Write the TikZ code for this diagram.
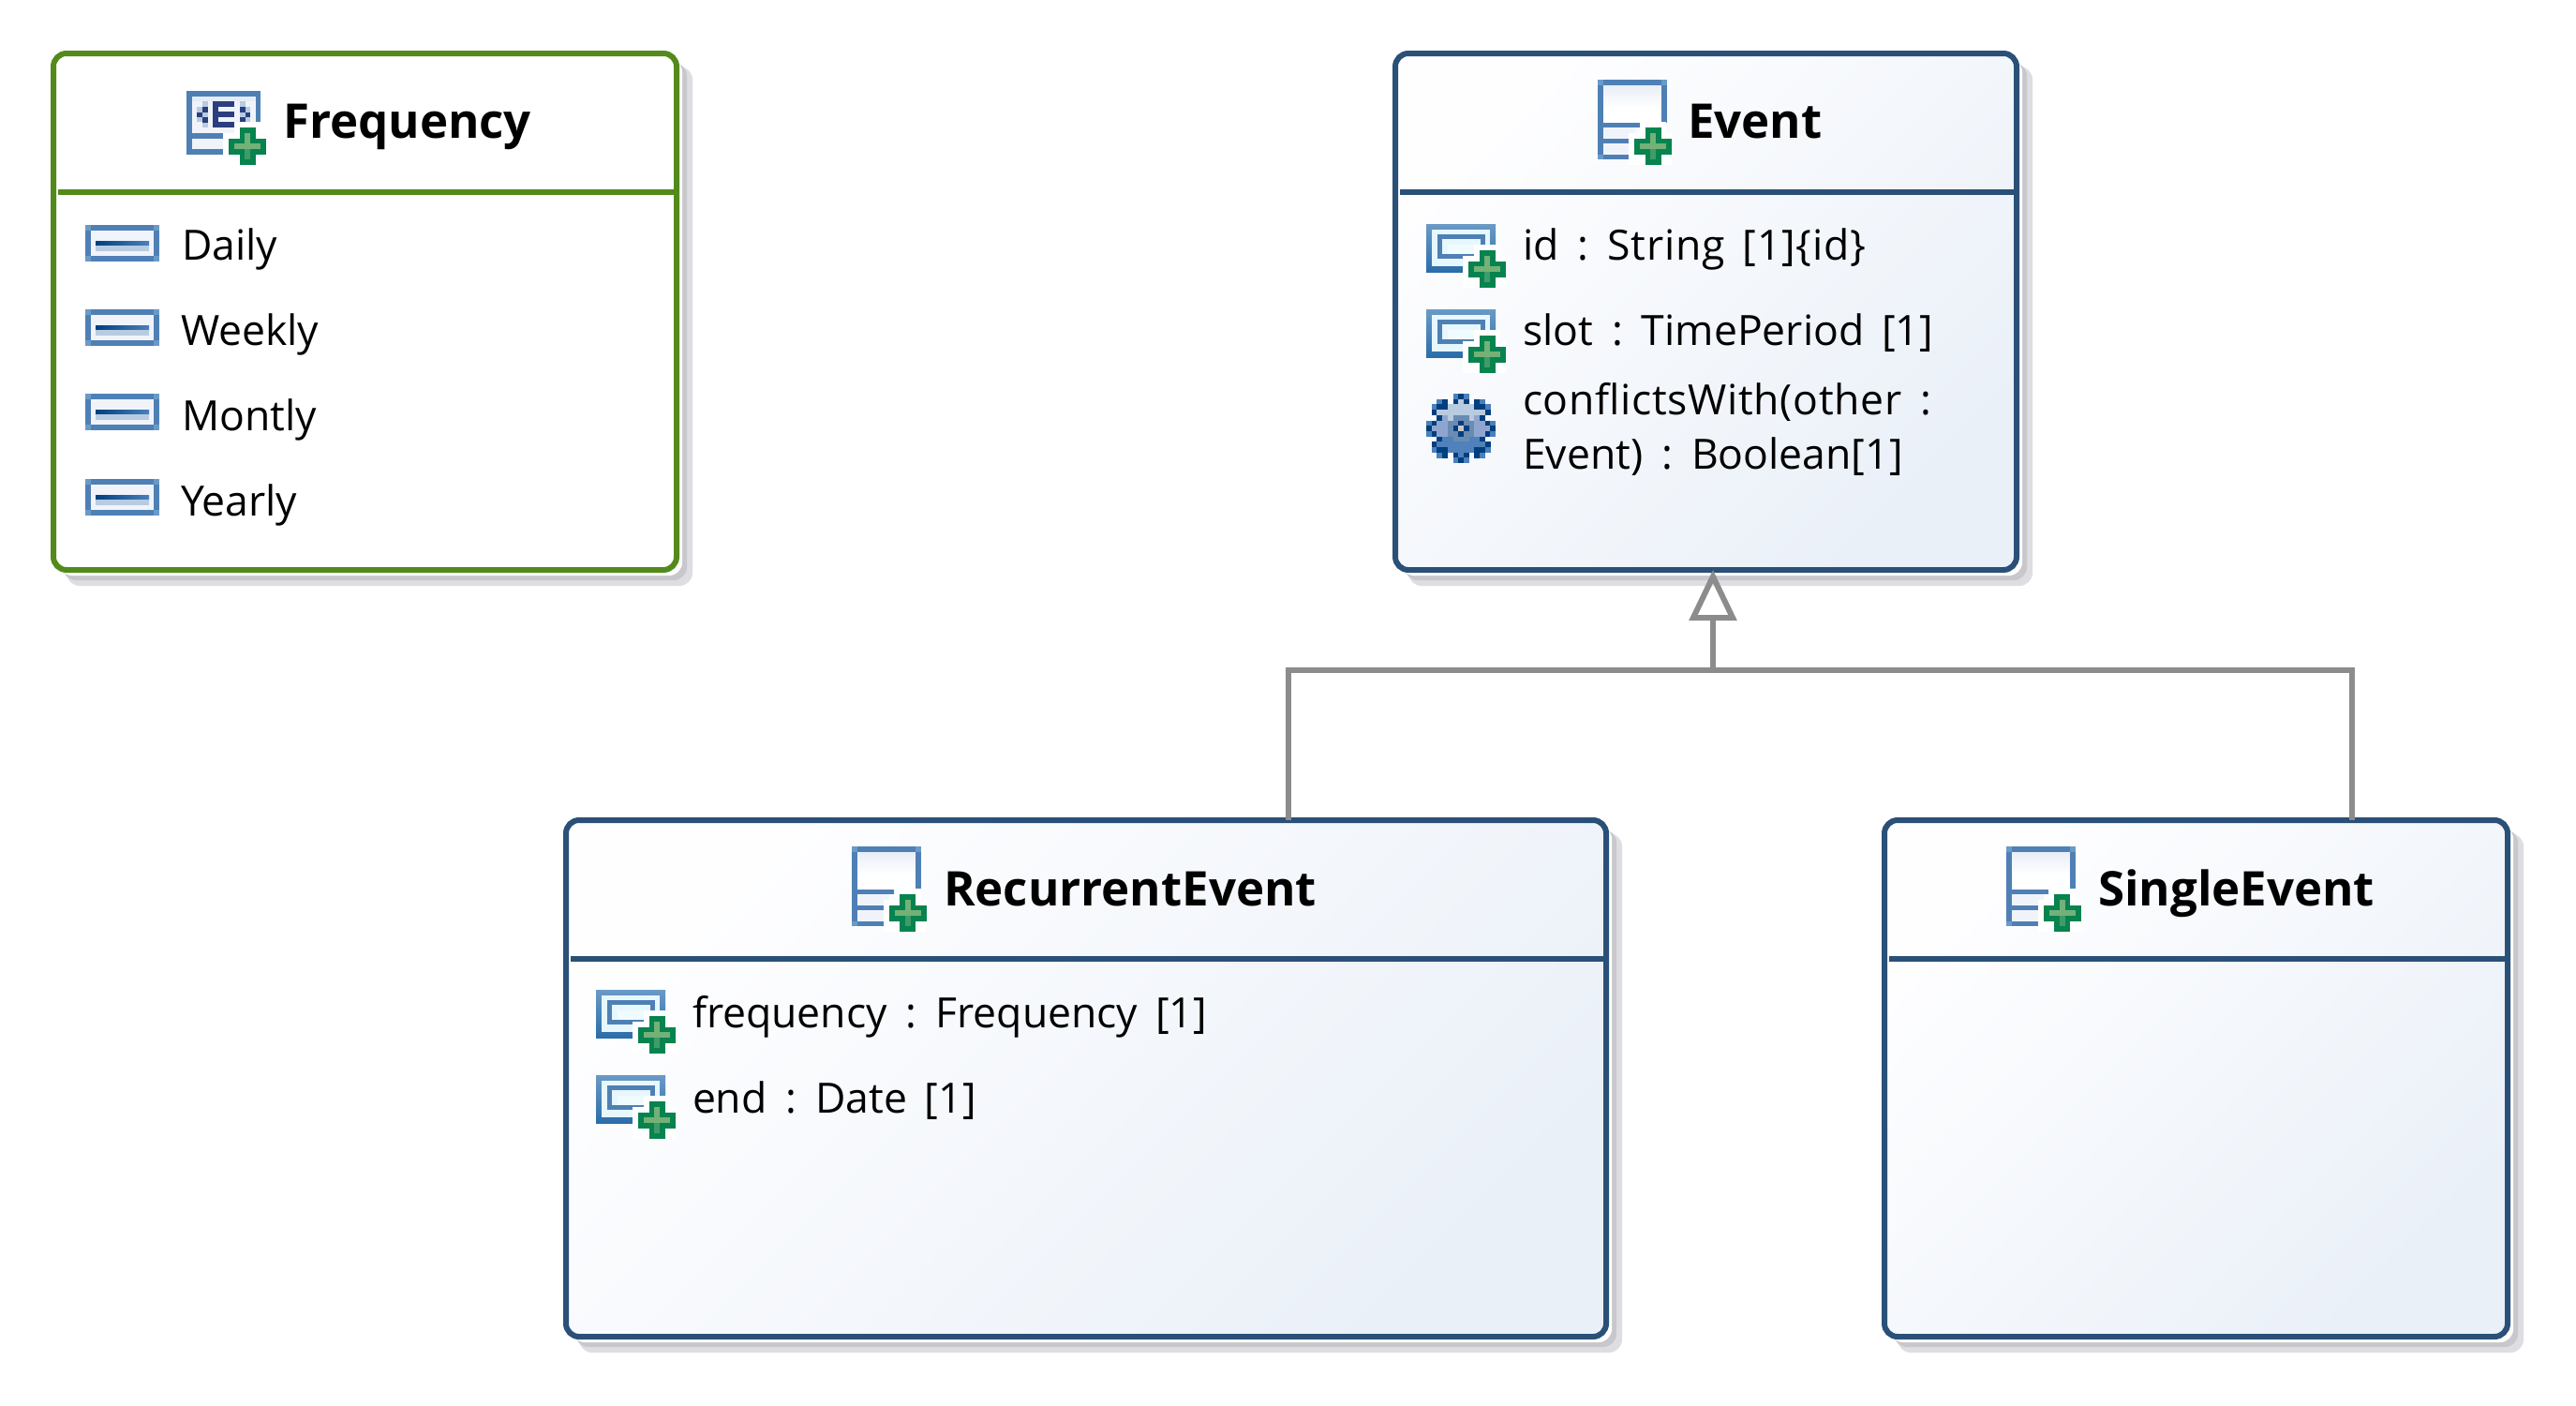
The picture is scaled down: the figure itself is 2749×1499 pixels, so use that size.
\documentclass[tikz,border=0pt]{standalone}
\usepackage{fontspec}
\setmainfont{Open Sans}
\usetikzlibrary{arrows.meta}
\definecolor{greenline}{HTML}{538A1C}
\definecolor{blueline}{HTML}{2A5078}
\definecolor{connline}{HTML}{8C8C8C}
\definecolor{shadowA}{HTML}{DEDDE2}
\definecolor{shadowB}{HTML}{C8C7CC}
\definecolor{iconframe}{HTML}{4F80B5}
\definecolor{iconcorner}{HTML}{6A9AC6}
\definecolor{attrtop}{HTML}{6A9AC6}
\definecolor{attrbottom}{HTML}{2B6DA9}
\definecolor{attrpale}{HTML}{E6F8FE}
\definecolor{attrpaler}{HTML}{F0FBFF}
\definecolor{plusgreen}{HTML}{07834F}
\definecolor{pluslight}{HTML}{73B177}
\definecolor{plusmid}{HTML}{3F9C68}
\definecolor{navy}{HTML}{2B3F7F}
\definecolor{panelA}{HTML}{FEFEFF}
\definecolor{panelB}{HTML}{EAF0F8}
\definecolor{iconA}{HTML}{E6ECF6}
\definecolor{iconB}{HTML}{F0F4FA}
\definecolor{gearD}{HTML}{003F7F}
\definecolor{gearM}{HTML}{4A80BB}
\definecolor{gearL}{HTML}{B8CBE0}
\definecolor{gearP}{HTML}{8FA5D0}
\definecolor{gearG}{HTML}{6A8BB2}
\definecolor{gearW}{HTML}{C8C8C8}
\definecolor{gearB}{HTML}{5081BB}
\tikzset{
  boxbase/.style={draw,line width=6pt,rounded corners=14pt,inner sep=0pt,outer sep=0pt},
  classfill/.style={top color=panelA,bottom color=panelB,shading angle=45},
  conn/.style={draw=connline,line width=6pt},
  titletext/.style={anchor=base west,inner sep=0pt,outer sep=0pt,font=\fontsize{51}{58}\selectfont\bfseries},
  itemtext/.style={anchor=base west,inner sep=0pt,outer sep=0pt,align=left,font=\fontsize{44.5}{58}\selectfont},
}
\newcommand\cgap{\hspace{0.45em}:\hspace{0.45em}}
\newcommand\bgap{\hspace{0.42em}}
\newcommand\umlbox[7]{%
  \fill[shadowA,rounded corners=14pt] (#2+14,#3+14) rectangle (#4+17,#5+17);
  \fill[shadowB,rounded corners=14pt] (#2+10,#3+10) rectangle (#4+11,#5+11);
  \fill[white,rounded corners=14pt] (#2+6,#3+6) rectangle (#4+6,#5+6);
  \node[boxbase,draw=#6,#7,minimum width=#4pt-#2pt,minimum height=#5pt-#3pt] (#1) at ({(#2+#4)/2},{(#3+#5)/2}) {};
  \draw[#6,line width=6pt] (#2+5,#3+148) -- (#4,#3+148);
}
\newcommand\plusicon[2]{%
  \begin{scope}[shift={(#1,#2)}]
    \fill[white] (-26,-14) rectangle (20,20);
    \fill[white] (-14,-26) rectangle (14,20);
    \fill[plusgreen] (-20,-8.5) rectangle (20,8.5);
    \fill[plusgreen] (-8.5,-20) rectangle (8.5,20);
    \fill[plusmid] (-3,0) rectangle (3,14);
    \fill[pluslight] (-3,-14) rectangle (3,0);
    \fill[pluslight] (-14,-3) rectangle (14,3);
  \end{scope}}
\newcommand\classicon[2]{%
  \begin{scope}[shift={(#1,#2)}]
    \shade[top color=iconA,bottom color=white] (3,3) rectangle (71,30);
    \fill[white] (3,30) rectangle (71,46);
    \fill[iconB] (3,51) rectangle (40,80);
    \fill[iconframe] (0,0) rectangle (74,6);
    \fill[iconframe] (0,0) rectangle (6,85);
    \fill[iconframe] (68,0) rectangle (74,46);
    \fill[iconframe] (0,46) rectangle (45,51);
    \fill[iconframe] (0,63) rectangle (34,68);
    \fill[iconframe] (0,79.5) rectangle (34,85);
    \fill[iconcorner] (0,0) rectangle (6,6);
    \fill[iconcorner] (68,0) rectangle (74,6);
    \fill[iconcorner] (0,79.5) rectangle (6,85);
  \end{scope}
  \plusicon{#1+59.5}{#2+71}}
\newcommand\enumicon[2]{%
  \begin{scope}[shift={(#1,#2)}]
    \fill[iconB] (2,2) rectangle (77,66);
    \fill[iconA] (5,5) rectangle (74,11);
    \fill[iconframe] (0,0) rectangle (79,5.5);
    \fill[iconframe] (0,0) rectangle (5.5,68);
    \fill[iconframe] (73.5,0) rectangle (79,34);
    \fill[iconframe] (0,45) rectangle (40,51);
    \fill[iconframe] (0,62) rectangle (40,68);
    \fill[navy] (28,11) rectangle (34,39);
    \fill[navy] (28,11) rectangle (51,17);
    \fill[navy] (28,22) rectangle (51,28);
    \fill[navy] (28,33) rectangle (51,39);
    \fill[gearL] (17,11) rectangle (23,39);
    \fill[gearL] (11,17) rectangle (17,33);
    \fill[navy] (17,17) rectangle (23,23);
    \fill[navy] (11,23) rectangle (17,28);
    \fill[navy] (17,28) rectangle (23,34);
    \fill[gearL] (57,11) rectangle (63,34);
    \fill[gearL] (63,17) rectangle (68,34);
    \fill[navy] (57,17) rectangle (63,23);
    \fill[navy] (63,23) rectangle (68,28);
    \fill[navy] (57,28) rectangle (63,34);
  \end{scope}
  \plusicon{#1+65}{#2+59}}
\newcommand\attricon[2]{%
  \begin{scope}[shift={(#1,#2)}]
    \shade[top color=attrtop,bottom color=attrbottom] (0,0) rectangle (74,51);
    \fill[attrpale] (6,6) rectangle (68,45);
    \fill[iconframe] (12,11) rectangle (63,37);
    \fill[attrpale] (17,16) rectangle (58,32);
    \fill[attrpaler] (23,22) rectangle (58,32);
  \end{scope}
  \plusicon{#1+65}{#2+48}}
\newcommand\literalicon[2]{%
  \begin{scope}[shift={(#1,#2)}]
    \fill[iconB] (3,3) rectangle (76,36);
    \fill[iconframe] (0,0) rectangle (79,6);
    \fill[iconframe] (0,33) rectangle (79,39);
    \fill[iconframe] (0,0) rectangle (6,39);
    \fill[iconframe] (73,0) rectangle (79,39);
    \fill[iconcorner] (0,0) rectangle (6,6);
    \fill[iconcorner] (73,0) rectangle (79,6);
    \fill[iconcorner] (0,33) rectangle (6,39);
    \fill[iconcorner] (73,33) rectangle (79,39);
    \shade[left color=gearD,right color=gearM] (11,17) rectangle (68,22);
    \fill[gearL] (11,22) rectangle (68,28);
  \end{scope}}
\newcount\pxc
\def\pxdraw#1#2{\ifx.#2\else\fill[gear#2] ({\the\pxc*5.7},{#1*5.7}) rectangle +(5.85,5.85);\fi\global\advance\pxc by 1 }
\def\pxnext#1#2{\ifx\relax#2\let\pxgo\relax\else\pxdraw{#1}{#2}\def\pxgo{\pxnext{#1}}\fi\pxgo}
\def\pxrow#1#2{\global\pxc=0 \pxnext{#1}#2\relax}
\newcommand\gearicon[2]{%
  \begin{scope}[shift={(#1,#2)}]
    \pxrow{0}{.....MDM.....}
    \pxrow{1}{..MD.DLD.DM..}
    \pxrow{2}{.MDDLLLLLDDM.}
    \pxrow{3}{.DLLLLLLLLLD.}
    \pxrow{4}{..DPLGGGLPD..}
    \pxrow{5}{MDPPGGDGGPPDM}
    \pxrow{6}{DPPPGDWDGPPPD}
    \pxrow{7}{MDPPGGDGGPPDM}
    \pxrow{8}{..DBBGGGBBD..}
    \pxrow{9}{.DBBBBBBBBBD.}
    \pxrow{10}{.MDDBBBBBDDM.}
    \pxrow{11}{..MD.DBD.DM..}
    \pxrow{12}{.....MDM.....}
  \end{scope}}
\begin{document}
\begin{tikzpicture}[x=1pt,y=-1pt]
\useasboundingbox (0,0) rectangle (2749,1499);
\fill[white] (0,0) rectangle (2749,1499);
% boxes
\umlbox{frequency}{57}{57}{722}{608}{greenline}{fill=white}
\umlbox{event}{1489}{57}{2152}{608}{blueline}{classfill}
\umlbox{recurrent}{604}{875}{1714}{1426}{blueline}{classfill}
\umlbox{single}{2011}{875}{2676}{1426}{blueline}{classfill}
% connectors
\coordinate (busmid) at (1828,715);
\coordinate (busleft) at (1375,715);
\coordinate (busright) at (2510,715);
\draw[conn] (busleft |- recurrent.north) -- (busleft) -- (busright) -- (busright |- single.north);
\draw[conn,-{Triangle[open,length=54pt,width=50pt,line width=6pt]}] (busmid) -- (busmid |- event.south);
% frequency
\enumicon{199}{97}
\node[titletext] (ftitle) at (302,147) {Frequency};
\literalicon{91}{240}
\node[itemtext] (f1) at (194,277) {Daily};
\literalicon{91}{330}
\node[itemtext] (f2) at (193,368) {Weekly};
\literalicon{91}{420}
\node[itemtext] (f3) at (194,459) {Montly};
\literalicon{91}{511}
\node[itemtext] (f4) at (193,550) {Yearly};
% event
\classicon{1704.5}{85}
\node[titletext] (etitle) at (1801,147) {Event};
\attricon{1522}{239}
\node[itemtext] (e1) at (1625,277) {id\cgap\addfontfeature{LetterSpace=1.9}String\bgap[1]\{id\}};
\attricon{1522}{330}
\node[itemtext] (e2) at (1625,368) {slot\cgap TimePeriod\bgap[1]};
\gearicon{1522}{420}
\node[itemtext] (e3) at (1625,500) {{\addfontfeature{LetterSpace=1.5}conflictsWith(other}\hspace{0.45em}:\\Event)\cgap Boolean[1]};
% recurrent
\classicon{909}{903}
\node[titletext] (rtitle) at (1007,966) {RecurrentEvent};
\attricon{636}{1056}
\node[itemtext] (r1) at (739,1096) {frequency\cgap Frequency\bgap[1]};
\attricon{636}{1147}
\node[itemtext] (r2) at (739,1187) {end\cgap Date\bgap[1]};
% single
\classicon{2141}{903}
\node[titletext] (stitle) at (2239,966) {SingleEvent};
\end{tikzpicture}
\end{document}
